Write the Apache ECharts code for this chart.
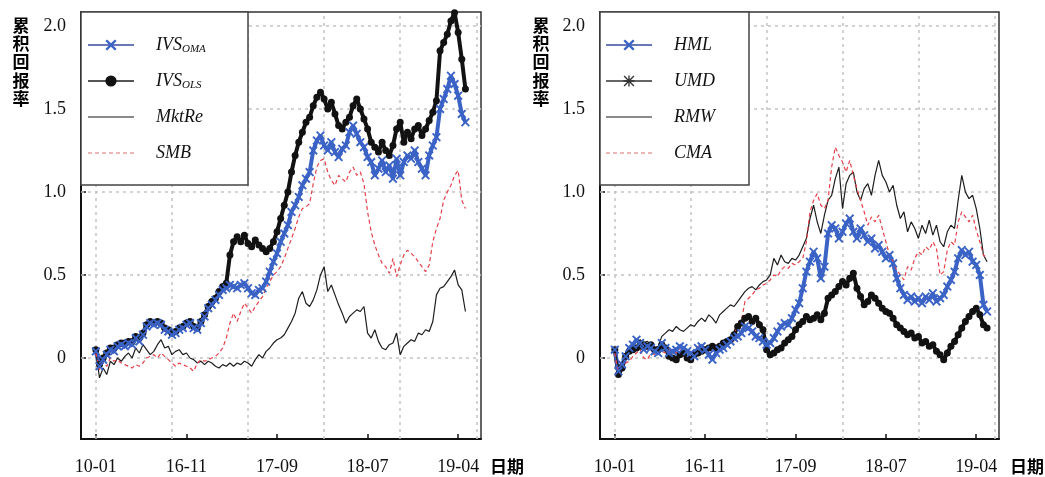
<!DOCTYPE html>
<html>
<head>
<meta charset="utf-8">
<script src="https://cdn.jsdelivr.net/npm/echarts@6/dist/echarts.min.js"></script>
<style>
  html, body { margin: 0; padding: 0; background: #fff; }
  #chart { width: 1045px; height: 477px; }
</style>
</head>
<body>
<div id="chart" role="img" aria-label="累积回报率 对比图"></div>
<script>
// 두 패널 누적수익률 비교 — x 는 관측 순번(index), 값은 그림에서 읽은 추정치

const xTicks = [0, 25, 50, 75, 100];
const xTickLabels = ["10-01", "16-11", "17-09", "18-07", "19-04"];
const xGridLines = [0, 21, 42, 63, 84, 105];
const yTicks = [0, 0.5, 1, 1.5, 2];
const yTickLabels = ["0", "0.5", "1.0", "1.5", "2.0"];

// 왼쪽 패널
const ivsOma = [
  0.04, -0.05, -0.01, 0.02, 0.05, 0.04, 0.07, 0.08, 0.07, 0.09,
  0.08, 0.12, 0.10, 0.14, 0.19, 0.21, 0.20, 0.21, 0.20, 0.17,
  0.16, 0.14, 0.15, 0.17, 0.18, 0.20, 0.21, 0.18, 0.17, 0.21,
  0.25, 0.30, 0.32, 0.35, 0.38, 0.41, 0.42, 0.44, 0.43, 0.42,
  0.44, 0.45, 0.42, 0.39, 0.38, 0.41, 0.42, 0.46, 0.52, 0.58,
  0.63, 0.70, 0.75, 0.80, 0.88, 0.92, 0.97, 1.04, 1.08, 1.12,
  1.25, 1.31, 1.34, 1.28, 1.25, 1.30, 1.24, 1.21, 1.26, 1.28,
  1.36, 1.40, 1.35, 1.30, 1.27, 1.21, 1.18, 1.10, 1.14, 1.19,
  1.12, 1.16, 1.08, 1.20, 1.10, 1.18, 1.22, 1.20, 1.25, 1.18,
  1.14, 1.10, 1.22, 1.28, 1.33, 1.50, 1.56, 1.62, 1.70, 1.65,
  1.58, 1.47, 1.42,
];
const ivsOls = [
  0.05, -0.04, 0.00, 0.03, 0.06, 0.06, 0.08, 0.09, 0.09, 0.10,
  0.10, 0.13, 0.12, 0.15, 0.20, 0.22, 0.21, 0.22, 0.21, 0.18,
  0.17, 0.15, 0.16, 0.18, 0.19, 0.21, 0.22, 0.19, 0.18, 0.22,
  0.26, 0.31, 0.34, 0.36, 0.40, 0.43, 0.45, 0.62, 0.70, 0.73,
  0.70, 0.74, 0.69, 0.67, 0.71, 0.68, 0.66, 0.64, 0.66, 0.70,
  0.76, 0.84, 0.92, 1.00, 1.12, 1.22, 1.30, 1.36, 1.42, 1.45,
  1.52, 1.57, 1.60, 1.56, 1.50, 1.54, 1.47, 1.40, 1.38, 1.42,
  1.45, 1.52, 1.56, 1.50, 1.44, 1.38, 1.30, 1.27, 1.24, 1.30,
  1.25, 1.22, 1.28, 1.38, 1.42, 1.30, 1.36, 1.32, 1.38, 1.40,
  1.34, 1.38, 1.43, 1.48, 1.55, 1.85, 1.90, 1.95, 2.03, 2.08,
  1.96, 1.80, 1.62,
];
const mktRe = [
  0.04, -0.12, -0.06, -0.10, -0.02, -0.04, 0.00, -0.02, 0.01, 0.03,
  0.00, 0.06, 0.03, 0.08, 0.05, 0.02, 0.04, 0.08, 0.11, 0.06,
  0.07, 0.02, 0.04, 0.05, 0.02, 0.03, 0.00, -0.01, -0.03, -0.02,
  -0.04, -0.02, -0.03, -0.05, -0.06, -0.04, -0.05, -0.03, -0.05, -0.03,
  -0.04, -0.02, -0.03, -0.05, -0.01, 0.02, 0.00, 0.04, 0.06, 0.09,
  0.11, 0.12, 0.14, 0.18, 0.22, 0.27, 0.36, 0.40, 0.33, 0.31,
  0.35, 0.41, 0.50, 0.55, 0.40, 0.44, 0.38, 0.32, 0.27, 0.21,
  0.25, 0.27, 0.29, 0.28, 0.31, 0.15, 0.12, 0.17, 0.10, 0.06,
  0.05, 0.08, 0.09, 0.15, 0.02, 0.07, 0.09, 0.11, 0.10, 0.15,
  0.14, 0.17, 0.16, 0.22, 0.38, 0.42, 0.43, 0.46, 0.49, 0.53,
  0.44, 0.41, 0.28,
];
const smb = [
  0.03, -0.07, -0.03, -0.05, 0.00, -0.02, -0.01, -0.03, -0.04, -0.05,
  -0.06, -0.04, -0.05, -0.03, 0.00, 0.01, 0.02, 0.00, 0.03, 0.01,
  -0.01, -0.03, -0.05, -0.03, -0.04, -0.05, -0.06, -0.08, -0.03, -0.01,
  -0.02, -0.01, 0.00, 0.01, 0.03, 0.06, 0.12, 0.21, 0.27, 0.22,
  0.28, 0.33, 0.30, 0.27, 0.31, 0.34, 0.37, 0.42, 0.46, 0.50,
  0.52, 0.55, 0.60, 0.66, 0.72, 0.78, 0.85, 0.90, 0.91, 0.93,
  1.05, 1.15, 1.19, 1.20, 1.12, 1.07, 1.04, 1.10, 1.08, 1.06,
  1.12, 1.15, 1.10, 1.12, 1.05, 0.88, 0.76, 0.68, 0.62, 0.57,
  0.55, 0.51, 0.60, 0.49, 0.56, 0.62, 0.65, 0.63, 0.61, 0.58,
  0.55, 0.52, 0.56, 0.70, 0.78, 0.84, 0.95, 1.00, 1.04, 1.10,
  1.13, 0.95, 0.90,
];

// 오른쪽 패널
const hml = [
  0.05, -0.08, -0.04, 0.01, 0.06, 0.08, 0.11, 0.09, 0.05, 0.07,
  0.06, 0.04, 0.03, 0.09, 0.06, 0.03, 0.04, 0.05, 0.07, 0.06,
  0.04, 0.03, 0.01, 0.06, 0.07, 0.05, 0.02, -0.01, 0.03, 0.05,
  0.06, 0.08, 0.10, 0.12, 0.13, 0.15, 0.19, 0.18, 0.16, 0.13,
  0.12, 0.10, 0.08, 0.09, 0.12, 0.16, 0.19, 0.21, 0.20, 0.24,
  0.29, 0.33, 0.42, 0.52, 0.58, 0.64, 0.60, 0.48, 0.55, 0.75,
  0.80, 0.78, 0.72, 0.76, 0.81, 0.84, 0.76, 0.72, 0.78, 0.74,
  0.70, 0.72, 0.66, 0.68, 0.64, 0.60, 0.62, 0.57, 0.48, 0.42,
  0.38, 0.35, 0.37, 0.34, 0.36, 0.33, 0.37, 0.35, 0.39, 0.34,
  0.36, 0.38, 0.43, 0.47, 0.52, 0.60, 0.65, 0.62, 0.64, 0.58,
  0.56, 0.50, 0.32, 0.28,
];
const umd = [
  0.05, -0.10, -0.06, 0.01, 0.04, 0.05, 0.06, 0.07, 0.08, 0.07,
  0.08, 0.05, 0.05, 0.08, 0.06, 0.01, 0.00, -0.01, 0.02, 0.03,
  0.00, -0.01, 0.02, 0.03, 0.04, 0.05, 0.06, 0.07, 0.06, 0.07,
  0.09, 0.10, 0.11, 0.14, 0.19, 0.21, 0.24, 0.25, 0.22, 0.24,
  0.20, 0.17, 0.05, 0.02, 0.03, 0.05, 0.06, 0.09, 0.11, 0.13,
  0.17, 0.20, 0.22, 0.25, 0.23, 0.24, 0.26, 0.23, 0.27, 0.36,
  0.38, 0.40, 0.43, 0.46, 0.44, 0.48, 0.51, 0.42, 0.37, 0.32,
  0.34, 0.38, 0.36, 0.33, 0.30, 0.28, 0.27, 0.24, 0.20, 0.18,
  0.16, 0.14, 0.15, 0.12, 0.13, 0.09, 0.10, 0.07, 0.08, 0.04,
  0.02, -0.01, 0.03, 0.07, 0.10, 0.14, 0.18, 0.22, 0.25, 0.28,
  0.30, 0.26, 0.20, 0.18,
];
const rmw = [
  0.04, -0.05, -0.03, 0.03, 0.05, 0.08, 0.07, 0.11, 0.09, 0.10,
  0.08, 0.06, 0.07, 0.13, 0.15, 0.17, 0.16, 0.19, 0.17, 0.16,
  0.18, 0.20, 0.19, 0.22, 0.24, 0.22, 0.26, 0.24, 0.21, 0.26,
  0.28, 0.30, 0.32, 0.31, 0.34, 0.37, 0.40, 0.42, 0.43, 0.41,
  0.44, 0.46, 0.47, 0.50, 0.60, 0.56, 0.62, 0.58, 0.57, 0.60,
  0.59, 0.62, 0.67, 0.72, 0.84, 0.92, 0.82, 0.75, 0.86, 0.95,
  0.98, 1.08, 1.15, 0.90, 1.05, 1.10, 1.12, 1.00, 0.95, 1.02,
  1.05, 0.98, 1.10, 1.19, 1.10, 1.06, 1.00, 1.04, 0.92, 0.84,
  0.88, 0.76, 0.82, 0.78, 0.72, 0.80, 0.75, 0.83, 0.74, 0.80,
  0.70, 0.67, 0.76, 0.80, 0.78, 0.95, 1.10, 1.00, 0.96, 0.98,
  0.90, 0.78, 0.62, 0.58,
];
const cma = [
  0.03, -0.10, -0.08, -0.03, -0.02, 0.01, 0.03, 0.05, 0.00, -0.01,
  0.03, 0.02, 0.05, 0.04, 0.03, 0.05, 0.04, 0.03, 0.05, 0.04,
  0.05, 0.03, 0.04, 0.07, 0.06, 0.06, 0.05, 0.04, 0.07, 0.08,
  0.10, 0.11, 0.13, 0.15, 0.19, 0.22, 0.34, 0.36, 0.38, 0.41,
  0.42, 0.44, 0.45, 0.47, 0.50, 0.49, 0.53, 0.55, 0.54, 0.57,
  0.56, 0.58, 0.60, 0.70, 0.88, 0.95, 0.99, 0.92, 0.90, 0.95,
  1.15, 1.27, 1.22, 1.18, 1.12, 1.19, 1.10, 1.02, 0.95, 0.88,
  0.80, 0.85, 0.82, 0.86, 0.78, 0.70, 0.62, 0.58, 0.53, 0.50,
  0.47, 0.55, 0.53, 0.60, 0.64, 0.62, 0.67, 0.65, 0.70, 0.66,
  0.50, 0.52, 0.65, 0.70, 0.68, 0.82, 0.88, 0.85, 0.82, 0.86,
  0.77, 0.70, 0.62, 0.60,
];

const SERIF = "'Liberation Serif', 'Times New Roman', serif";
const CJK = "'Noto Sans CJK SC', sans-serif";
const BLUE = "#3b63c6";
const DOT = "#121212";
const LINE = "#1e1e1e";
const RED = "#e5404a";
const X_MIN = -4.1, X_MAX = 106.3;
const Y_MIN = -0.488, Y_MAX = 2.084;

const X_SYMBOL = "path://M0,1.5L1.5,0L5,3.5L8.5,0L10,1.5L6.5,5L10,8.5L8.5,10L5,6.5L1.5,10L0,8.5L3.5,5Z";
const STAR_SYMBOL = "path://M4.4,0h1.2v10h-1.2z M0,4.4h10v1.2h-10z M1.04,0.2L9.8,8.96L8.96,9.8L0.2,1.04z M8.96,0.2L9.8,1.04L1.04,9.8L0.2,8.96z";

const toXY = (arr) => arr.map((v, i) => [i, v]);

const chart = echarts.init(document.getElementById("chart"), null, { renderer: "canvas" });

function gridMarks() {
  return {
    silent: true,
    z: 1,
    symbol: ["none", "none"],
    label: { show: false },
    emphasis: { disabled: true },
    lineStyle: { color: "#c4c4c4", type: [3, 4], width: 1.5 },
    data: [
      ...xGridLines.map((v) => ({ xAxis: v })),
      ...yTicks.map((v) => ({ yAxis: v })),
    ],
  };
}

function xAxisFor(gridIndex) {
  return {
    type: "value",
    gridIndex,
    min: X_MIN,
    max: X_MAX,
    axisLine: { show: true, onZero: false, lineStyle: { color: "#111", width: 2 } },
    axisTick: { show: true, inside: true, length: 5, customValues: xTicks, lineStyle: { color: "#111", width: 1.5 } },
    axisLabel: {
      customValues: xTicks, margin: 19, fontFamily: SERIF, fontSize: 18, color: "#111",
      formatter: (v) => xTickLabels[xTicks.indexOf(v)] ?? "",
    },
    splitLine: { show: false },
  };
}

function yAxisFor(gridIndex) {
  return {
    type: "value",
    gridIndex,
    min: Y_MIN,
    max: Y_MAX,
    axisLine: { show: true, onZero: false, lineStyle: { color: "#111", width: 2 } },
    axisTick: { show: true, inside: true, length: 5, customValues: yTicks, lineStyle: { color: "#111", width: 1.5 } },
    axisLabel: {
      customValues: yTicks, margin: 15, fontFamily: SERIF, fontSize: 18, color: "#111",
      formatter: (v) => yTickLabels[yTicks.indexOf(v)] ?? "",
    },
    splitLine: { show: false },
  };
}

function legendFor(items, left) {
  return {
    orient: "vertical",
    left,
    top: 35,
    padding: 0,
    itemWidth: 46,
    itemHeight: 14,
    itemGap: 16,
    selectedMode: false,
    data: items,
    formatter: (name) => {
      const parts = name.split("_");
      return parts.length > 1 ? `{b|${parts[0]}}{s|${parts[1]}}` : `{b|${name}}`;
    },
    textStyle: {
      color: "#111",
      padding: [0, 0, 0, 17],
      lineHeight: 20,
      rich: {
        b: { fontFamily: SERIF, fontStyle: "italic", fontSize: 18, lineHeight: 20, color: "#111" },
        s: { fontFamily: SERIF, fontStyle: "italic", fontSize: 11, lineHeight: 8, verticalAlign: "bottom", color: "#111" },
      },
    },
  };
}

// 축 이름 — 세로 "累积回报率", 가로 "日期"
function valueName(x) {
  return {
    type: "text", x, y: 16, z: 5,
    style: {
      text: "累\n积\n回\n报\n率", fontFamily: CJK, fontWeight: "bold", fontSize: 17, lineHeight: 18.4,
      fill: "#000", align: "center", verticalAlign: "top",
    },
  };
}

function dateName(x) {
  return {
    type: "text", x, y: 467, z: 5,
    style: { text: "日期", fontFamily: CJK, fontWeight: "bold", fontSize: 17, fill: "#000", align: "left", verticalAlign: "middle" },
  };
}

function legendBox(x, width) {
  return {
    type: "rect", z: 3,
    shape: { x, y: 12, width, height: 173 },
    style: { fill: "#fff", stroke: "#444", lineWidth: 1.5 },
  };
}

const hiddenMark = { opacity: 0 };
const gridBase = { top: 12, height: 427, show: true, borderColor: "#333", borderWidth: 1.5, outerBoundsMode: "none", containLabel: false };

chart.setOption({
  animation: false,
  grid: [
    { ...gridBase, left: 81, width: 400 },
    { ...gridBase, left: 600, width: 399 },
  ],
  xAxis: [xAxisFor(0), xAxisFor(1)],
  yAxis: [yAxisFor(0), yAxisFor(1)],
  graphic: [
    legendBox(81, 167), legendBox(600, 149),
    valueName(21), valueName(541),
    dateName(490), dateName(1010),
  ],
  legend: [
    legendFor([
      { name: "IVS_OMA", lineStyle: { color: "#6a78b8", width: 2 } },
      { name: "IVS_OLS", lineStyle: { color: "#555", width: 2 } },
      { name: "MktRe", lineStyle: { color: "#8a8a8a", width: 2 }, itemStyle: hiddenMark },
      { name: "SMB", lineStyle: { color: "#d87070", width: 1.2, type: [4, 3] }, itemStyle: hiddenMark },
    ], 87),
    legendFor([
      { name: "HML", lineStyle: { color: "#6a78b8", width: 2 } },
      { name: "UMD", lineStyle: { color: "#666", width: 2 } },
      { name: "RMW", lineStyle: { color: "#8a8a8a", width: 2 }, itemStyle: hiddenMark },
      { name: "CMA", lineStyle: { color: "#d87070", width: 1.2, type: [4, 3] }, itemStyle: hiddenMark },
    ], 605),
  ],
  series: [
    // 왼쪽
    {
      name: "IVS_OLS", type: "line", xAxisIndex: 0, yAxisIndex: 0, data: toXY(ivsOls),
      symbol: "circle", symbolSize: 7, itemStyle: { color: DOT }, lineStyle: { color: DOT, width: 4 },
      emphasis: { disabled: true }, markLine: gridMarks(),
    },
    {
      name: "IVS_OMA", type: "line", xAxisIndex: 0, yAxisIndex: 0, data: toXY(ivsOma),
      symbol: X_SYMBOL, symbolSize: 9, itemStyle: { color: BLUE }, lineStyle: { color: BLUE, width: 4 },
      emphasis: { disabled: true },
    },
    {
      name: "MktRe", type: "line", xAxisIndex: 0, yAxisIndex: 0, data: toXY(mktRe),
      symbol: "none", itemStyle: { color: LINE }, lineStyle: { color: LINE, width: 1.2 },
      emphasis: { disabled: true },
    },
    {
      name: "SMB", type: "line", xAxisIndex: 0, yAxisIndex: 0, data: toXY(smb),
      symbol: "none", itemStyle: { color: RED }, lineStyle: { color: RED, width: 1.2, type: [4, 3] },
      emphasis: { disabled: true },
    },
    // 오른쪽 — 범례용 UMD 표식(별표)
    {
      name: "UMD", type: "line", xAxisIndex: 1, yAxisIndex: 1, data: [],
      symbol: STAR_SYMBOL, itemStyle: { color: "#333" }, lineStyle: { color: "#666", width: 2 },
    },
    {
      name: "UMD", type: "line", xAxisIndex: 1, yAxisIndex: 1, data: toXY(umd),
      symbol: "circle", symbolSize: 7, itemStyle: { color: DOT }, lineStyle: { color: DOT, width: 4 },
      emphasis: { disabled: true }, markLine: gridMarks(),
    },
    {
      name: "HML", type: "line", xAxisIndex: 1, yAxisIndex: 1, data: toXY(hml),
      symbol: X_SYMBOL, symbolSize: 9, itemStyle: { color: BLUE }, lineStyle: { color: BLUE, width: 4 },
      emphasis: { disabled: true },
    },
    {
      name: "RMW", type: "line", xAxisIndex: 1, yAxisIndex: 1, data: toXY(rmw),
      symbol: "none", itemStyle: { color: LINE }, lineStyle: { color: LINE, width: 1.2 },
      emphasis: { disabled: true },
    },
    {
      name: "CMA", type: "line", xAxisIndex: 1, yAxisIndex: 1, data: toXY(cma),
      symbol: "none", itemStyle: { color: RED }, lineStyle: { color: RED, width: 1.2, type: [4, 3] },
      emphasis: { disabled: true },
    },
  ],
});

window.addEventListener("resize", () => chart.resize());
</script>
</body>
</html>
